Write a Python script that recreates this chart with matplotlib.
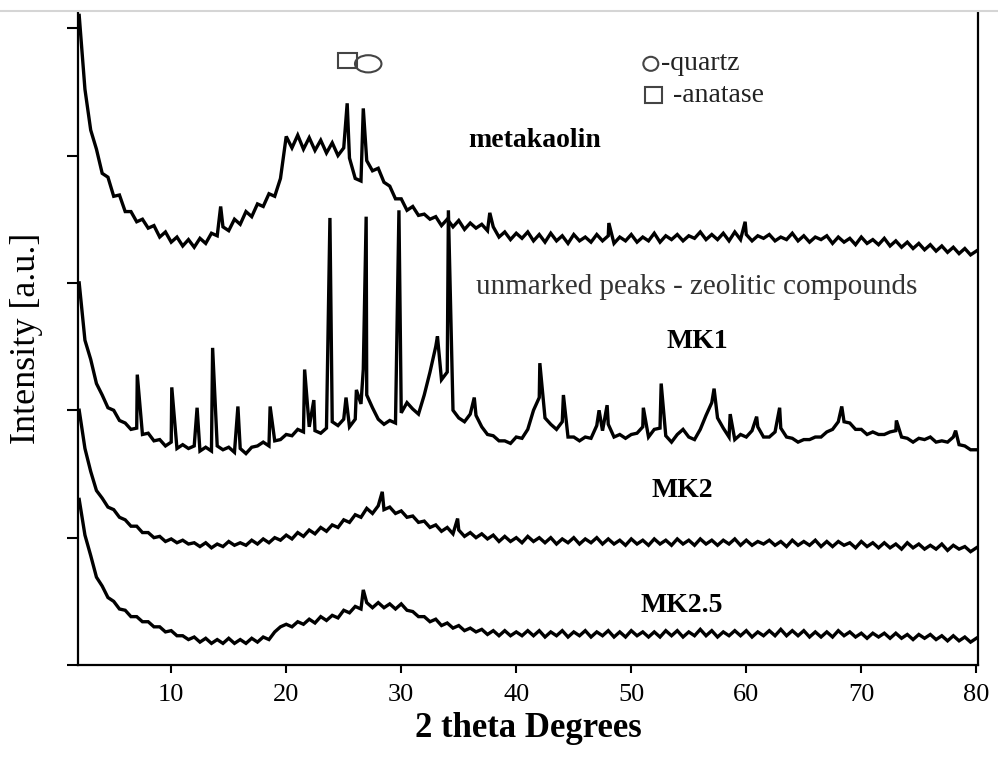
import numpy as np
import matplotlib.pyplot as plt
from matplotlib.lines import Line2D
from matplotlib.patches import Ellipse, Rectangle

plt.rcParams['font.family'] = ['Liberation Serif', 'DejaVu Serif']

# 2 theta sampling grid (every 0.5 deg)
two_theta = np.arange(2.0, 80.001, 0.5)

metakaolin = [5.10, 4.52, 4.20, 4.05, 3.86, 3.83, 3.68, 3.69, 3.56, 3.56,
              3.48, 3.50, 3.43, 3.45, 3.36, 3.40, 3.32, 3.36, 3.29, 3.34,
              3.28, 3.35, 3.31, 3.39, 3.37, 3.44, 3.41, 3.50, 3.46, 3.56,
              3.52, 3.62, 3.60, 3.70, 3.68, 3.82, 4.15, 4.06, 4.16, 4.05,
              4.14, 4.04, 4.12, 4.02, 4.10, 4.00, 4.06, 3.98, 3.82, 3.80,
              3.96, 3.88, 3.90, 3.79, 3.76, 3.66, 3.66, 3.57, 3.60, 3.53,
              3.54, 3.50, 3.52, 3.45, 3.50, 3.44, 3.49, 3.42, 3.47, 3.43,
              3.46, 3.41, 3.44, 3.36, 3.40, 3.34, 3.39, 3.35, 3.40, 3.33,
              3.38, 3.32, 3.39, 3.33, 3.37, 3.31, 3.38, 3.33, 3.36, 3.32,
              3.38, 3.33, 3.37, 3.31, 3.36, 3.33, 3.38, 3.32, 3.36, 3.33,
              3.39, 3.32, 3.37, 3.34, 3.38, 3.33, 3.37, 3.35, 3.40, 3.34,
              3.38, 3.34, 3.39, 3.33, 3.40, 3.34, 3.38, 3.33, 3.37, 3.35,
              3.38, 3.33, 3.36, 3.34, 3.39, 3.33, 3.37, 3.32, 3.36, 3.34,
              3.37, 3.31, 3.36, 3.32, 3.35, 3.30, 3.36, 3.31, 3.34, 3.30,
              3.35, 3.29, 3.33, 3.28, 3.32, 3.27, 3.31, 3.26, 3.30, 3.25,
              3.29, 3.24, 3.28, 3.23, 3.27, 3.22, 3.25]
metakaolin_peak_x = [14.3, 25.3, 26.7, 37.7, 48.05, 59.9]
metakaolin_peak_y = [3.60, 4.41, 4.37, 3.55, 3.47, 3.48]

mk1 = [3.00, 2.55, 2.40, 2.21, 2.12, 2.02, 2.00, 1.92, 1.90, 1.85,
       1.86, 1.81, 1.82, 1.76, 1.77, 1.72, 1.75, 1.70, 1.73, 1.70,
       1.72, 1.68, 1.71, 1.68, 1.72, 1.69, 1.71, 1.67, 1.70, 1.66,
       1.71, 1.72, 1.75, 1.72, 1.76, 1.77, 1.81, 1.80, 1.85, 1.83,
       1.87, 1.84, 1.82, 1.86, 1.91, 1.88, 1.93, 1.87, 1.93, 2.05,
       2.12, 2.02, 1.93, 1.89, 1.92, 1.90, 1.98, 2.06, 2.01, 1.97,
       2.12, 2.30, 2.50, 2.24, 2.30, 2.00, 1.94, 1.91, 1.97, 1.96,
       1.87, 1.81, 1.80, 1.76, 1.76, 1.74, 1.79, 1.78, 1.85, 2.00,
       2.10, 1.94, 1.89, 1.85, 1.91, 1.79, 1.79, 1.76, 1.79, 1.78,
       1.88, 1.84, 1.89, 1.79, 1.81, 1.78, 1.81, 1.82, 1.87, 1.79,
       1.85, 1.86, 1.80, 1.75, 1.81, 1.85, 1.79, 1.77, 1.85, 1.96,
       2.06, 1.94, 1.86, 1.79, 1.77, 1.81, 1.79, 1.84, 1.87, 1.79,
       1.79, 1.83, 1.86, 1.79, 1.78, 1.75, 1.77, 1.77, 1.79, 1.79,
       1.83, 1.85, 1.91, 1.91, 1.90, 1.85, 1.85, 1.81, 1.83, 1.81,
       1.81, 1.83, 1.84, 1.79, 1.78, 1.75, 1.78, 1.77, 1.79, 1.75,
       1.76, 1.75, 1.79, 1.73, 1.72, 1.69, 1.69]
mk1_peak_x = [7.05, 10.05, 12.25, 13.6, 15.8, 18.6, 21.6, 22.4, 23.8, 25.2,
              26.1, 26.7, 26.95, 29.8, 33.15, 34.1, 36.35, 42.05, 44.1, 47.2,
              47.9, 51.05, 52.6, 57.2, 58.6, 60.9, 62.9, 68.3, 73.05, 78.2]
mk1_peak_y = [2.28, 2.18, 2.02, 2.49, 2.03, 2.03, 2.32, 2.08, 3.51, 2.10,
              2.16, 2.32, 3.52, 3.57, 2.58, 3.57, 2.10, 2.37, 2.12, 2.00,
              2.04, 2.02, 2.21, 2.17, 1.97, 1.95, 2.02, 2.03, 1.92, 1.84]

mk2 = [2.00, 1.70, 1.52, 1.37, 1.31, 1.24, 1.22, 1.16, 1.14, 1.09,
       1.09, 1.04, 1.04, 1.00, 1.01, 0.97, 0.99, 0.96, 0.98, 0.95,
       0.96, 0.93, 0.96, 0.92, 0.95, 0.93, 0.97, 0.94, 0.96, 0.94,
       0.98, 0.95, 0.99, 0.96, 1.00, 0.98, 1.02, 0.99, 1.04, 1.01,
       1.06, 1.03, 1.08, 1.05, 1.10, 1.08, 1.14, 1.12, 1.18, 1.16,
       1.23, 1.19, 1.25, 1.22, 1.24, 1.19, 1.21, 1.16, 1.17, 1.12,
       1.13, 1.08, 1.10, 1.05, 1.08, 1.03, 1.06, 1.01, 1.04, 1.00,
       1.03, 0.99, 1.02, 0.97, 1.01, 0.97, 1.00, 0.96, 1.01, 0.97,
       1.00, 0.96, 1.00, 0.95, 0.99, 0.96, 1.00, 0.95, 0.99, 0.96,
       1.00, 0.95, 0.99, 0.95, 0.98, 0.94, 0.99, 0.95, 0.98, 0.94,
       0.99, 0.95, 0.98, 0.94, 0.99, 0.95, 0.98, 0.94, 0.99, 0.95,
       0.98, 0.94, 0.98, 0.95, 0.99, 0.94, 0.98, 0.94, 0.97, 0.95,
       0.98, 0.94, 0.97, 0.93, 0.98, 0.94, 0.97, 0.94, 0.98, 0.93,
       0.97, 0.93, 0.97, 0.94, 0.96, 0.92, 0.97, 0.93, 0.96, 0.92,
       0.96, 0.92, 0.95, 0.91, 0.96, 0.92, 0.95, 0.91, 0.94, 0.91,
       0.95, 0.90, 0.94, 0.91, 0.93, 0.89, 0.92]
mk2_peak_x = [28.35, 34.9]
mk2_peak_y = [1.36, 1.15]

mk25 = [1.30, 1.02, 0.86, 0.69, 0.62, 0.53, 0.50, 0.44, 0.43, 0.38,
        0.38, 0.34, 0.34, 0.30, 0.30, 0.26, 0.27, 0.23, 0.23, 0.20,
        0.22, 0.18, 0.21, 0.17, 0.20, 0.17, 0.21, 0.17, 0.20, 0.17,
        0.21, 0.18, 0.22, 0.20, 0.26, 0.30, 0.32, 0.30, 0.34, 0.32,
        0.36, 0.33, 0.38, 0.35, 0.39, 0.37, 0.43, 0.41, 0.46, 0.44,
        0.49, 0.45, 0.49, 0.45, 0.48, 0.44, 0.48, 0.43, 0.42, 0.38,
        0.38, 0.34, 0.36, 0.31, 0.33, 0.29, 0.31, 0.27, 0.29, 0.26,
        0.28, 0.24, 0.27, 0.23, 0.27, 0.23, 0.26, 0.23, 0.27, 0.23,
        0.27, 0.22, 0.26, 0.23, 0.27, 0.22, 0.26, 0.23, 0.27, 0.22,
        0.26, 0.23, 0.27, 0.22, 0.26, 0.22, 0.27, 0.23, 0.26, 0.22,
        0.26, 0.22, 0.27, 0.23, 0.27, 0.22, 0.26, 0.23, 0.28, 0.23,
        0.27, 0.22, 0.26, 0.23, 0.27, 0.23, 0.27, 0.22, 0.26, 0.23,
        0.27, 0.23, 0.28, 0.23, 0.27, 0.23, 0.27, 0.22, 0.26, 0.22,
        0.26, 0.22, 0.27, 0.23, 0.26, 0.22, 0.25, 0.21, 0.25, 0.22,
        0.25, 0.21, 0.25, 0.21, 0.24, 0.20, 0.24, 0.21, 0.24, 0.20,
        0.23, 0.19, 0.23, 0.19, 0.22, 0.18, 0.21]
mk25_peak_x = [26.7]
mk25_peak_y = [0.59]


def trace(base, peak_x, peak_y):
    x = np.concatenate([two_theta, peak_x])
    y = np.concatenate([base, peak_y])
    order = np.argsort(x, kind='stable')
    return x[order], y[order]


fig = plt.figure(figsize=(9.98, 7.61), dpi=100)
ax = fig.add_axes([0.0782, 0.1261, 0.9018, 0.8580])

for base, px, py in [(metakaolin, metakaolin_peak_x, metakaolin_peak_y),
                     (mk1, mk1_peak_x, mk1_peak_y),
                     (mk2, mk2_peak_x, mk2_peak_y),
                     (mk25, mk25_peak_x, mk25_peak_y)]:
    x, y = trace(base, px, py)
    ax.plot(x, y, color='black', lw=2.4, solid_joinstyle='miter')

ax.set_xlim(1.9, 80.15)
ax.set_ylim(0, 5.126)
ax.set_xticks([10, 20, 30, 40, 50, 60, 70, 80])
ax.set_yticks([0, 1, 2, 3, 4, 5])
ax.set_yticklabels([])
ax.tick_params(axis='x', direction='out', length=6, width=1.5, labelsize=19, pad=8)
ax.tick_params(axis='y', direction='out', length=8, width=1.5)
ax.spines['top'].set_visible(False)
for s in ['left', 'bottom', 'right']:
    ax.spines[s].set_linewidth(1.6)

ax.set_xlabel('2 theta Degrees', fontsize=25, fontweight='bold', labelpad=4)
ax.set_ylabel('Intensity [a.u.]', fontsize=26, labelpad=14)

# sample names and notes
ax.text(41.6, 4.12, 'metakaolin', fontsize=20, fontweight='bold', ha='center', va='center')
ax.text(55.7, 2.97, 'unmarked peaks - zeolitic compounds', fontsize=21,
        color='#333333', ha='center', va='center')
ax.text(55.7, 2.54, 'MK1', fontsize=20, fontweight='bold', ha='center', va='center')
ax.text(54.4, 1.37, 'MK2', fontsize=20, fontweight='bold', ha='center', va='center')
ax.text(54.4, 0.47, 'MK2.5', fontsize=20, fontweight='bold', ha='center', va='center')

# phase symbols above the metakaolin peaks
ax.add_patch(Rectangle((24.5, 4.69), 1.65, 0.118, fill=False, ec='#444444', lw=1.5))
ax.add_patch(Ellipse((27.13, 4.72), 2.3, 0.135, fill=False, ec='#444444', lw=1.5))

# key
ax.add_patch(Ellipse((51.7, 4.72), 1.3, 0.11, fill=False, ec='#444444', lw=1.5))
ax.text(52.6, 4.72, '-quartz', fontsize=20, color='#222222', ha='left', va='center')
ax.add_patch(Rectangle((51.2, 4.41), 1.5, 0.125, fill=False, ec='#444444', lw=1.5))
ax.text(53.6, 4.47, '-anatase', fontsize=20, color='#222222', ha='left', va='center')

# thin grey page border at the top
fig.add_artist(Line2D([0, 1], [1 - 10.5 / 761] * 2, color='#d5d5d5', lw=1.5))

fig.savefig('out.png', dpi=100)
